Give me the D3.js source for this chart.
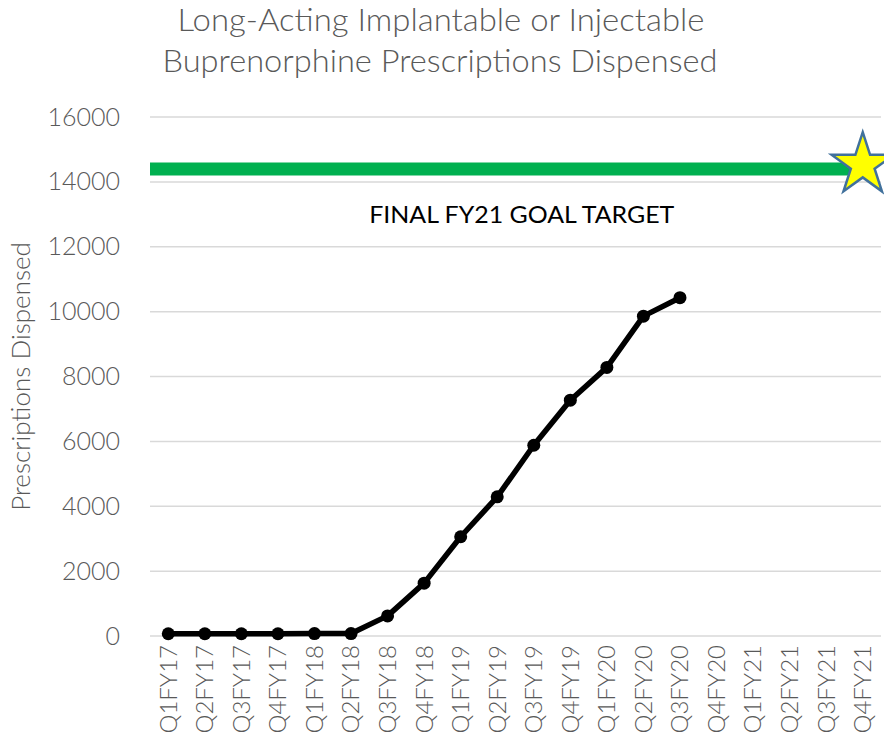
<!DOCTYPE html>
<html>
<head>
<meta charset="utf-8">
<script src="https://cdn.jsdelivr.net/npm/d3@7"></script>
<style>
  body { margin: 0; background: #fff; }
  text { font-family: Lato, "Open Sans", sans-serif; }
</style>
</head>
<body>
<svg class="chart"></svg>
<script>
const quarters = ["Q1FY17", "Q2FY17", "Q3FY17", "Q4FY17", "Q1FY18", "Q2FY18", "Q3FY18", "Q4FY18",
                  "Q1FY19", "Q2FY19", "Q3FY19", "Q4FY19", "Q1FY20", "Q2FY20", "Q3FY20",
                  "Q4FY20", "Q1FY21", "Q2FY21", "Q3FY21", "Q4FY21"];
const dispensed = [70, 70, 70, 70, 75, 75, 620, 1630, 3060, 4290, 5880, 7270, 8280, 9860, 10430];
const goalValue = 14400;
const goalQuarter = "Q4FY21";
const yTicks = [0, 2000, 4000, 6000, 8000, 10000, 12000, 14000, 16000];

const W = 884, H = 747;
const margin = { top: 117, right: 3, bottom: 111, left: 150 },
      width = W - margin.left - margin.right,
      height = H - margin.top - margin.bottom;

const root = d3.select(".chart").attr("width", W).attr("height", H);

root.append("text")
    .attr("x", 441).attr("y", 31)
    .attr("text-anchor", "middle")
    .attr("fill", "#595959")
    .style("font-size", "31px")
    .style("font-weight", 300)
    .attr("textLength", 527)
    .attr("lengthAdjust", "spacingAndGlyphs")
    .text("Long-Acting Implantable or Injectable");
root.append("text")
    .attr("x", 440).attr("y", 72)
    .attr("text-anchor", "middle")
    .attr("fill", "#595959")
    .style("font-size", "31px")
    .style("font-weight", 300)
    .attr("textLength", 555)
    .attr("lengthAdjust", "spacingAndGlyphs")
    .text("Buprenorphine Prescriptions Dispensed");

const svg = root.append("g")
    .attr("transform", `translate(${margin.left}, ${margin.top})`);

const x = d3.scaleBand()
    .domain(quarters)
    .range([0, width]);

const y = d3.scaleLinear()
    .domain([0, 16000])
    .range([height, 0]);

// gridlines
svg.append("g")
    .selectAll("line")
    .data(yTicks)
    .enter().append("line")
    .attr("x1", 0).attr("x2", width)
    .attr("y1", d => y(d)).attr("y2", d => y(d))
    .attr("stroke", "#d9d9d9")
    .attr("stroke-width", 1.5);

const yAxis = svg.append("g")
    .call(d3.axisLeft(y).tickValues(yTicks).tickFormat(d3.format("d")).tickSize(0).tickPadding(30));
yAxis.select(".domain").remove();
yAxis.selectAll("text")
    .attr("fill", "#595959")
    .style("font-size", "25px")
    .style("font-weight", 300)
    .style("font-family", "Lato, sans-serif");

const xAxis = svg.append("g")
    .attr("transform", `translate(0, ${height})`)
    .call(d3.axisBottom(x).tickSize(0).tickPadding(10));
xAxis.select(".domain").remove();
xAxis.selectAll("text")
    .attr("fill", "#595959")
    .style("font-size", "24px")
    .style("font-weight", 300)
    .style("font-family", "Lato, sans-serif")
    .attr("transform", "rotate(-90)")
    .attr("text-anchor", "end")
    .attr("x", -9)
    .attr("y", 0)
    .attr("dy", "0.35em");

root.append("text")
    .attr("transform", `translate(30, ${margin.top + height / 2}) rotate(-90)`)
    .attr("text-anchor", "middle")
    .attr("fill", "#595959")
    .style("font-size", "26px")
    .style("font-weight", 300)
    .text("Prescriptions Dispensed");

// goal line
const goalX = x(goalQuarter) + x.bandwidth() / 2;
svg.append("line")
    .attr("x1", 0).attr("x2", goalX)
    .attr("y1", y(goalValue)).attr("y2", y(goalValue))
    .attr("stroke", "#00b050")
    .attr("stroke-width", 13);

const star = d3.symbol().type(d3.symbolStar).size(1200);
svg.append("path")
    .attr("d", star())
    .attr("transform", `translate(${goalX}, ${y(goalValue) - 4})`)
    .attr("fill", "#ffff00")
    .attr("stroke", "#41719c")
    .attr("stroke-width", 2.5);

svg.append("text")
    .attr("x", x("Q3FY19") + x.bandwidth() / 2 - 12)
    .attr("y", y(goalValue) + 54)
    .attr("text-anchor", "middle")
    .attr("fill", "#000")
    .style("font-size", "24px")
    .attr("textLength", 305)
    .attr("lengthAdjust", "spacingAndGlyphs")
    .text("FINAL FY21 GOAL TARGET");

// data line
const pts = dispensed.map((v, i) => ({ q: quarters[i], v }));
svg.append("path")
    .datum(pts)
    .attr("fill", "none")
    .attr("stroke", "#000")
    .attr("stroke-width", 5.5)
    .attr("stroke-linejoin", "round")
    .attr("d", d3.line().x(d => x(d.q) + x.bandwidth() / 2).y(d => y(d.v)));

svg.selectAll(".dot")
    .data(pts)
    .enter().append("circle")
    .attr("class", "dot")
    .attr("cx", d => x(d.q) + x.bandwidth() / 2)
    .attr("cy", d => y(d.v))
    .attr("r", 6.5)
    .attr("fill", "#000");
</script>
</body>
</html>
